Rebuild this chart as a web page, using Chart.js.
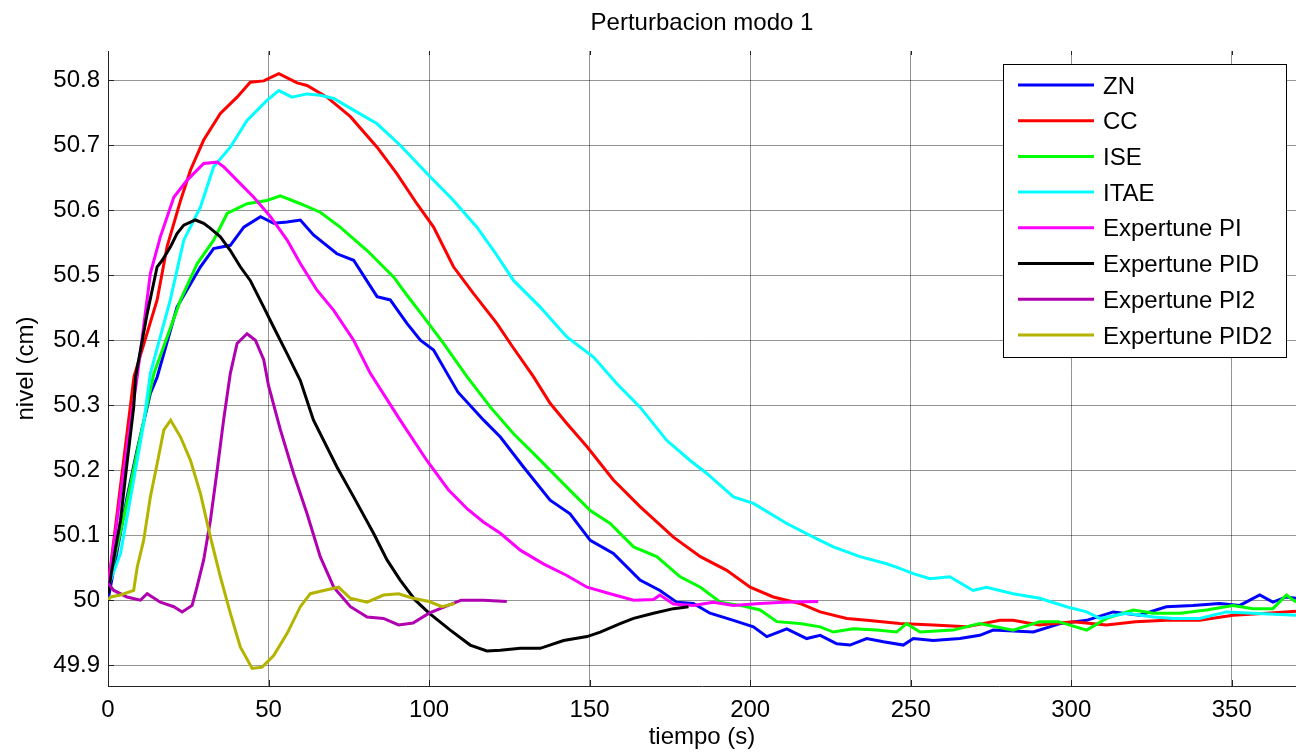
<!DOCTYPE html>
<html lang="es">
<head>
    <meta charset="UTF-8">
    <title>Perturbacion modo 1</title>
    <script src="https://cdn.jsdelivr.net/npm/chart.js"></script>
    <style>
        html, body { margin: 0; padding: 0; background: #fff; }
        #wrap { width: 1296px; height: 753px; }
    </style>
</head>
<body>
    <div id="wrap"><canvas id="chart"></canvas></div>

    <script>
        // tick labels
        const xTicks = [0, 50, 100, 150, 200, 250, 300, 350];
        const yTicks = [49.9, 50, 50.1, 50.2, 50.3, 50.4, 50.5, 50.6, 50.7, 50.8];

        // series: [tiempo (s), nivel (cm)]
        const zn = [[0,50.0],[3,50.08],[6,50.16],[9,50.23],[13.2,50.318],[15.3,50.343],[21.5,50.451],[28.8,50.513],[32.9,50.541],[38.1,50.546],[42.3,50.574],[47.5,50.59],[51.6,50.58],[55.8,50.582],[59.9,50.585],[64,50.562],[71.3,50.533],[76.5,50.523],[83.8,50.467],[87.9,50.462],[93.1,50.426],[97.3,50.4],[101.4,50.385],[105.6,50.349],[109,50.32],[117,50.277],[122.2,50.251],[129.4,50.205],[137.7,50.154],[143.9,50.133],[150.2,50.092],[157.4,50.072],[165.7,50.031],[171.9,50.015],[177.1,49.997],[182.3,49.995],[187.5,49.98],[194.8,49.969],[201,49.959],[205.2,49.944],[211.4,49.956],[217.6,49.941],[221.8,49.946],[227,49.933],[231.1,49.931],[236.3,49.941],[241.5,49.936],[247.7,49.931],[250.8,49.941],[257,49.938],[265.3,49.941],[271.5,49.946],[275.7,49.954],[288.2,49.951],[296.5,49.964],[304.8,49.969],[313.1,49.982],[321.3,49.977],[329.6,49.99],[337.9,49.992],[346.2,49.995],[352.5,49.992],[358.7,50.008],[362.8,49.997],[367,50.005],[370,50.003]];
        const cc = [[0,50.02],[4,50.18],[8.1,50.344],[15.3,50.462],[18.4,50.544],[22.6,50.615],[25.7,50.662],[29.8,50.708],[35,50.749],[40.2,50.774],[44.3,50.797],[48.5,50.799],[53.2,50.81],[58.9,50.796],[62,50.792],[68.2,50.774],[75.5,50.744],[83.8,50.697],[90,50.656],[96.2,50.61],[101.4,50.574],[107.6,50.513],[113.8,50.472],[121.1,50.426],[126,50.39],[132.5,50.344],[137.7,50.303],[142.9,50.272],[149.2,50.236],[157.4,50.185],[165.7,50.144],[176.1,50.097],[184.5,50.067],[192.7,50.046],[200,50.02],[207.2,50.005],[215.5,49.995],[221.8,49.982],[230.1,49.972],[236.3,49.969],[246.6,49.964],[257,49.962],[267.4,49.959],[277.8,49.969],[281.9,49.969],[290,49.962],[300.6,49.967],[311,49.962],[320,49.967],[329.6,49.969],[340,49.969],[350.4,49.977],[360.8,49.98],[370,49.983]];
        const ise = [[0,50.02],[5,50.13],[10,50.25],[14.3,50.349],[22.6,50.462],[27.8,50.518],[32.9,50.554],[37.1,50.595],[43.3,50.61],[49.5,50.615],[53.7,50.622],[59.9,50.61],[66.1,50.597],[72.3,50.574],[80.7,50.538],[89,50.497],[93,50.47],[98.3,50.436],[104.5,50.395],[111.8,50.344],[119.1,50.297],[126.3,50.256],[132.5,50.226],[142.9,50.174],[150.2,50.138],[156.4,50.118],[163.7,50.082],[170.9,50.067],[178.2,50.036],[184.5,50.02],[190.7,49.997],[196.9,49.992],[203.1,49.985],[208.3,49.967],[215.5,49.964],[221.8,49.959],[225.9,49.951],[232.1,49.956],[239.4,49.954],[245.6,49.951],[248.7,49.964],[252.9,49.951],[263.2,49.954],[271.5,49.964],[281.9,49.954],[290.2,49.967],[296,49.967],[304.8,49.954],[311,49.972],[319.3,49.985],[325.6,49.98],[333.9,49.98],[342.1,49.985],[350.4,49.992],[356.6,49.987],[362.8,49.987],[367,50.008],[370,49.997]];
        const itae = [[0,50.02],[3.9,50.072],[8,50.185],[11.1,50.272],[13.2,50.349],[19.4,50.462],[23.6,50.554],[28.8,50.605],[32.9,50.667],[38.1,50.697],[43.3,50.738],[49.5,50.769],[53.2,50.784],[57.3,50.774],[62,50.779],[66.1,50.777],[70.3,50.772],[76.5,50.754],[83.8,50.733],[91,50.7],[100.4,50.651],[107.6,50.615],[114.9,50.574],[120.1,50.538],[126.3,50.492],[134.6,50.451],[142.9,50.405],[151.2,50.374],[158.5,50.333],[165.7,50.297],[174,50.246],[181.3,50.215],[186.5,50.195],[194.8,50.159],[201,50.149],[211.4,50.118],[219.7,50.097],[225.9,50.082],[234.2,50.067],[242.5,50.056],[246.6,50.049],[250.8,50.041],[256,50.033],[262.2,50.036],[269.4,50.015],[273.6,50.02],[281.9,50.01],[290.2,50.003],[298.5,49.99],[304.8,49.982],[308.9,49.972],[317.2,49.98],[325.6,49.974],[331.8,49.972],[340,49.972],[348.3,49.982],[356.6,49.98],[370,49.977]];
        const pi = [[0,50.02],[3,50.13],[6,50.24],[9.1,50.344],[13.2,50.503],[16.3,50.559],[20.5,50.62],[24.6,50.646],[29.8,50.672],[34,50.674],[36,50.667],[41.2,50.641],[45.4,50.62],[50.6,50.59],[55.8,50.554],[59.9,50.518],[65.1,50.477],[70.3,50.446],[76.5,50.4],[81.7,50.349],[91,50.277],[99.3,50.215],[106,50.17],[112,50.14],[117,50.12],[122.2,50.103],[128.4,50.077],[135.6,50.056],[142.9,50.038],[149.2,50.02],[156.4,50.01],[163.7,50.0],[169.9,50.001],[171.9,50.008],[176.1,49.994],[182.3,49.992],[188.5,49.997],[194.8,49.992],[203.1,49.995],[210.3,49.997],[221.2,49.998]];
        const pid = [[0,50.01],[2,50.07],[3.9,50.123],[5.9,50.21],[8,50.297],[8.6,50.344],[12.2,50.441],[15.3,50.513],[16.9,50.523],[19.5,50.544],[21.5,50.564],[23.6,50.577],[27.2,50.585],[29.8,50.58],[31.9,50.572],[35,50.559],[38.1,50.538],[41.2,50.513],[44.3,50.492],[48.5,50.451],[51.6,50.42],[55.8,50.379],[59.9,50.338],[64,50.277],[71.3,50.205],[76.5,50.159],[82.7,50.103],[86.9,50.062],[91,50.031],[95.7,50.0],[100,49.98],[106.6,49.954],[112.8,49.931],[118,49.922],[122.2,49.923],[128.4,49.926],[134.6,49.926],[141.9,49.938],[149.2,49.944],[153.3,49.951],[159.5,49.964],[163.7,49.972],[169.9,49.98],[176.1,49.987],[180.8,49.99]];
        const pi2 = [[0,50.026],[1.8,50.015],[5.9,50.005],[10.1,50.0],[12.2,50.01],[16.3,49.997],[20.5,49.99],[23.1,49.982],[26.2,49.992],[27.7,50.02],[29.8,50.062],[31.9,50.123],[34,50.2],[36,50.277],[38.1,50.349],[40.2,50.395],[43.3,50.41],[45.9,50.4],[48.5,50.37],[50,50.33],[53.7,50.262],[57.8,50.195],[62,50.133],[66.1,50.067],[70.3,50.02],[75.5,49.99],[80.7,49.974],[85.8,49.972],[90.5,49.962],[95,49.965],[100,49.98],[105,49.99],[110,50.0],[117,50.0],[124.2,49.998]];
        const pid2 = [[0,50.0],[0.8,50.005],[3.9,50.008],[8,50.015],[9.1,50.051],[11.1,50.092],[13.2,50.159],[15.3,50.21],[17.4,50.262],[19.5,50.277],[22.6,50.251],[25.7,50.215],[28.8,50.164],[31.9,50.097],[35,50.036],[38.1,49.98],[41.2,49.928],[44.9,49.895],[48,49.897],[51.6,49.915],[55.8,49.949],[59.9,49.99],[63,50.01],[67.2,50.015],[71.8,50.02],[75.5,50.003],[80.7,49.997],[85.8,50.008],[90.5,50.01],[95,50.003],[100,49.998],[104,49.99],[108,49.995]];

        const labels = ["ZN", "CC", "ISE", "ITAE", "Expertune PI", "Expertune PID", "Expertune PI2", "Expertune PID2"];
        const colors = ["#0000ff", "#ff0000", "#00ff00", "#00ffff", "#ff00ff", "#000000", "#b000b0", "#b4b400"];
        const series = [zn, cc, ise, itae, pi, pid, pi2, pid2];
        const titleText = "Perturbacion modo 1";

        const FONT = "'Liberation Sans', Arial, sans-serif";
        Chart.defaults.font.family = FONT;
        Chart.defaults.color = "#000";

        // title centred over the axes (not the whole canvas), like MATLAB
        const axesTitle = {
            id: "axesTitle",
            afterDraw(chart) {
                const { ctx, chartArea: a } = chart;
                ctx.save();
                ctx.font = "24px " + FONT;
                ctx.fillStyle = "#000";
                ctx.textAlign = "center";
                ctx.textBaseline = "middle";
                ctx.fillText(titleText, (a.left + a.right) / 2, 23.5);
                ctx.restore();
            }
        };

        // MATLAB-like inward tick marks
        const innerTicks = {
            id: "innerTicks",
            afterDraw(chart) {
                const { ctx, chartArea: a, scales: { x, y } } = chart;
                ctx.save();
                ctx.strokeStyle = "#222";
                ctx.lineWidth = 1;
                ctx.beginPath();
                yTicks.forEach(v => {
                    const py = Math.round(y.getPixelForValue(v)) + 0.5;
                    ctx.moveTo(a.left, py); ctx.lineTo(a.left + 6, py);
                });
                xTicks.forEach(v => {
                    const px = Math.round(x.getPixelForValue(v)) + 0.5;
                    ctx.moveTo(px, a.bottom); ctx.lineTo(px, a.bottom - 6);
                    ctx.moveTo(px, a.top); ctx.lineTo(px, a.top + 4);
                });
                ctx.stroke();
                ctx.restore();
            }
        };

        // legend box drawn inside the axes (top right)
        const boxLegend = {
            id: "boxLegend",
            afterDraw(chart) {
                const ctx = chart.ctx;
                const bx = 1003, by = 64, bw = 283, bh = 293;
                ctx.save();
                ctx.fillStyle = "#fff";
                ctx.fillRect(bx, by, bw, bh);
                ctx.strokeStyle = "#000";
                ctx.lineWidth = 1;
                ctx.strokeRect(bx + 0.5, by + 0.5, bw, bh);
                ctx.font = "24px " + FONT;
                ctx.textBaseline = "middle";
                ctx.textAlign = "left";
                chart.data.datasets.forEach((ds, i) => {
                    const yy = by + 21 + i * 35.7;
                    ctx.strokeStyle = ds.borderColor;
                    ctx.lineWidth = 3;
                    ctx.beginPath();
                    ctx.moveTo(bx + 15, yy);
                    ctx.lineTo(bx + 91, yy);
                    ctx.stroke();
                    ctx.fillStyle = "#000";
                    ctx.fillText(ds.label, bx + 100, yy + 2);
                });
                ctx.restore();
            }
        };

        new Chart(document.getElementById("chart"), {
            type: "line",
            data: {
                datasets: series.map((d, i) => ({
                    label: labels[i],
                    data: d,
                    borderColor: colors[i],
                    backgroundColor: colors[i],
                    borderWidth: 3,
                    pointRadius: 0,
                    tension: 0,
                    fill: false,
                    order: series.length - i
                }))
            },
            options: {
                responsive: true,
                maintainAspectRatio: false,
                animation: false,
                layout: { padding: { top: 51, right: 0, bottom: 0, left: 0 } },
                plugins: {
                    legend: { display: false },
                    tooltip: { enabled: false },
                    title: { display: false }
                },
                scales: {
                    x: {
                        type: "linear",
                        min: 0,
                        max: 370,
                        afterBuildTicks: s => { s.ticks = xTicks.map(v => ({ value: v })); },
                        afterFit: s => { s.height = 67; },
                        ticks: {
                            font: { size: 24 },
                            color: "#000",
                            padding: 10,
                            maxRotation: 0,
                            callback: v => String(v)
                        },
                        grid: { color: "rgba(0,0,0,0.42)", lineWidth: 1, drawTicks: false },
                        border: { display: true, color: "#262626", width: 1 },
                        title: {
                            display: true,
                            text: "tiempo (s)",
                            font: { size: 24 },
                            color: "#000",
                            padding: { top: 0, bottom: 1 }
                        }
                    },
                    y: {
                        type: "linear",
                        min: 49.868,
                        max: 50.845,
                        afterBuildTicks: s => { s.ticks = yTicks.map(v => ({ value: v })); },
                        afterFit: s => { s.width = 108; },
                        ticks: {
                            font: { size: 24 },
                            color: "#000",
                            padding: 8,
                            callback: v => String(Number(v.toFixed(1)))
                        },
                        grid: { color: "rgba(0,0,0,0.42)", lineWidth: 1, drawTicks: false },
                        border: { display: true, color: "#262626", width: 1 },
                        title: {
                            display: true,
                            text: "nivel (cm)",
                            font: { size: 24 },
                            color: "#000",
                            padding: { top: 12, bottom: 0 }
                        }
                    }
                }
            },
            plugins: [axesTitle, innerTicks, boxLegend]
        });
    </script>
</body>
</html>
